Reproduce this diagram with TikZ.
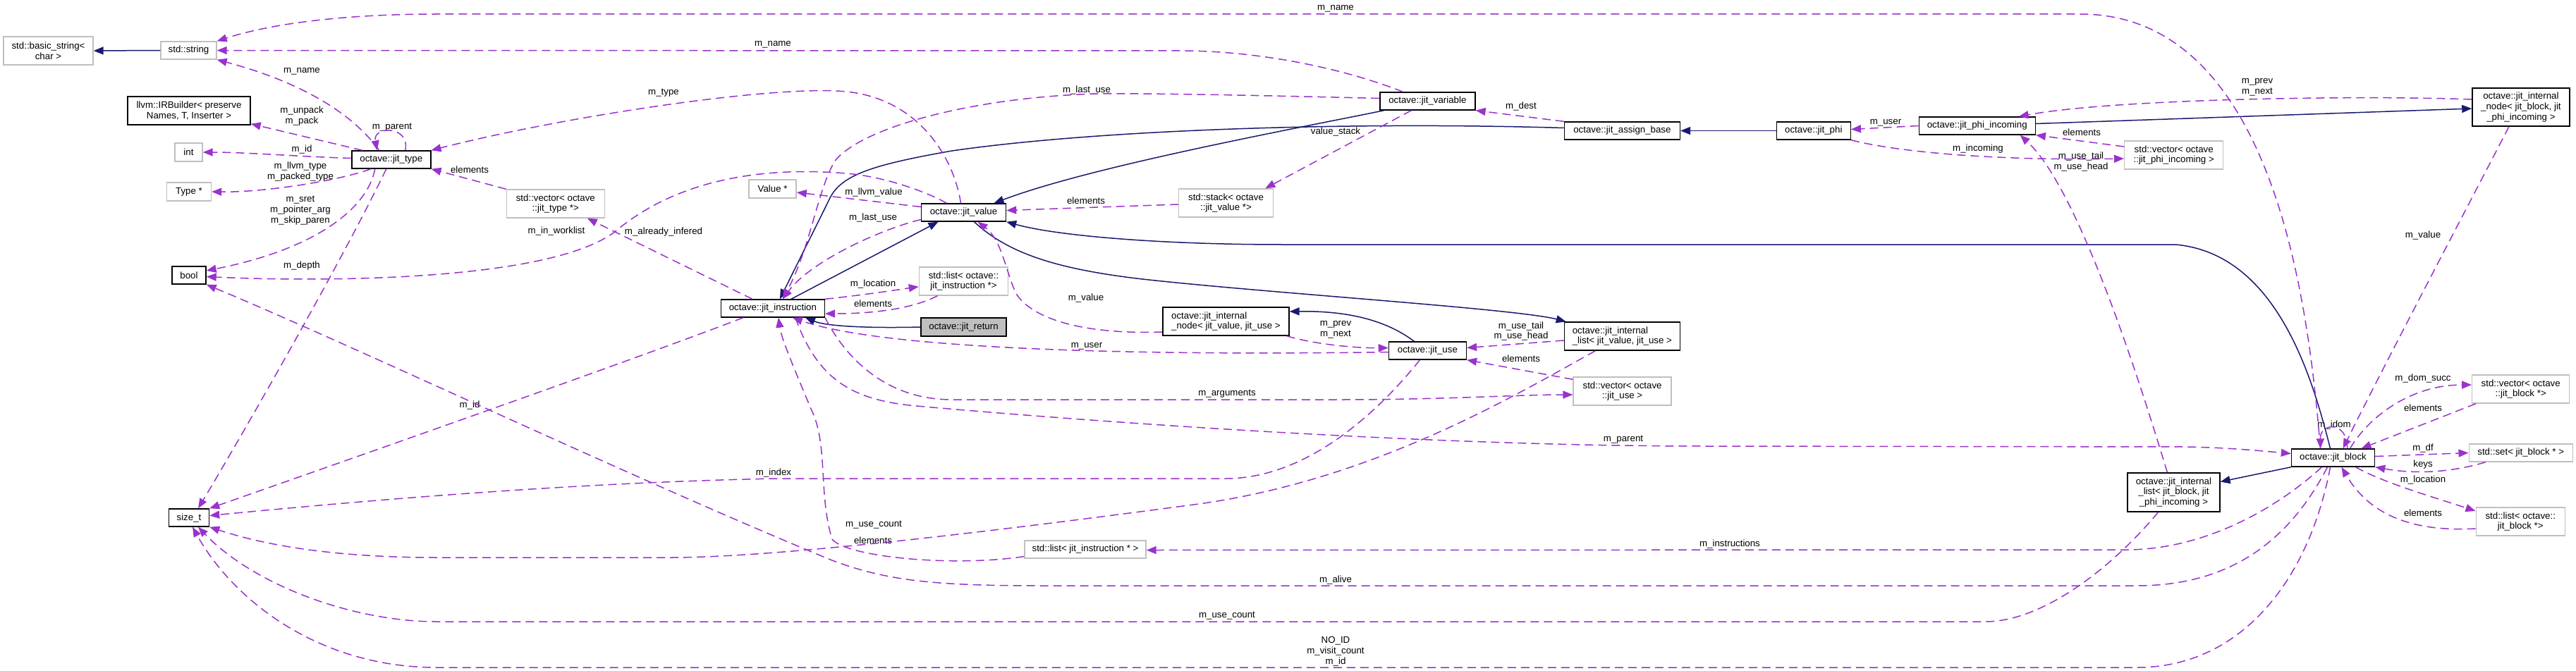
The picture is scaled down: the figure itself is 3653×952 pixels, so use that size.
\documentclass[tikz,border=0pt]{standalone}
\usepackage{fontspec}
\setmainfont{Liberation Sans}
\usetikzlibrary{arrows.meta}
\definecolor{dorch}{HTML}{9A32CD}
\definecolor{mnb}{HTML}{191970}
\definecolor{gsev}{HTML}{BFBFBF}
\newcommand\dxf{\fontsize{13.3}{14.8}\selectfont}
\tikzset{
 bx/.style={draw=black, line width=1.4pt, fill=white, inner sep=0pt, align=center, font=\dxf},
 gbx/.style={bx, draw=gsev},
 lab/.style={inner sep=0pt, align=center, font=\dxf},
 dep/.style={draw=dorch, line width=1.5pt, dash pattern=on 12pt off 7pt, -{Triangle[length=14pt,width=11pt]}},
 inh/.style={draw=mnb, line width=1.5pt, -{Triangle[length=14pt,width=11pt]}}
}
\begin{document}
\begin{tikzpicture}[x=1pt,y=-1pt]
\fill[white] (0,0) rectangle (3653,952);
\useasboundingbox (0,0) rectangle (3653,952);
% nodes
\node[gbx, minimum width=127pt, minimum height=40pt] (bstr) at (68.5,72) {std::basic\_string<\\char >};
\node[gbx, minimum width=79pt, minimum height=25pt] (str) at (267.5,71.5) {std::string};
\node[bx, minimum width=174pt, minimum height=40pt] (irb) at (268,157) {llvm::IRBuilder< preserve\\Names, T, Inserter >};
\node[gbx, minimum width=39pt, minimum height=26pt] (int) at (267.5,216) {int};
\node[gbx, minimum width=63pt, minimum height=26pt] (typep) at (268,272) {Type *};
\node[bx, minimum width=112pt, minimum height=25pt] (jtype) at (554.8,226.5) {octave::jit\_type};
\node[bx, minimum width=48pt, minimum height=25pt] (bool) at (268,390.5) {bool};
\node[bx, minimum width=57pt, minimum height=25pt] (sizet) at (268,734.5) {size\_t};
\node[gbx, minimum width=139pt, minimum height=40pt] (vjt) at (787.8,289) {std::vector< octave\\::jit\_type *>};
\node[gbx, minimum width=67pt, minimum height=26pt] (valp) at (1095.6,268) {Value *};
\node[bx, minimum width=147pt, minimum height=25pt] (jinst) at (1095.9,437.5) {octave::jit\_instruction};
\node[bx, minimum width=120pt, minimum height=25pt] (jval) at (1366.5,301.5) {octave::jit\_value};
\node[gbx, minimum width=134pt, minimum height=40pt] (stk) at (1738.5,288) {std::stack< octave\\::jit\_value *>};
\node[gbx, minimum width=126pt, minimum height=40pt] (lji) at (1366.5,399) {std::list< octave::\\jit\_instruction *>};
\node[bx, fill=gsev, minimum width=121pt, minimum height=26pt] (jret) at (1366.5,464) {octave::jit\_return};
\node[bx, align=left, minimum width=179pt, minimum height=40pt] (inode) at (1738.4,456) {octave::jit\_internal\\\_node< jit\_value, jit\_use >};
\node[bx, minimum width=135pt, minimum height=25pt] (jvar) at (2024.4,143.5) {octave::jit\_variable};
\node[bx, minimum width=164pt, minimum height=25pt] (jab) at (2300.4,185.5) {octave::jit\_assign\_base};
\node[bx, align=left, minimum width=164pt, minimum height=40pt] (ilist) at (2300.4,477) {octave::jit\_internal\\\_list< jit\_value, jit\_use >};
\node[bx, minimum width=105pt, minimum height=25pt] (jphi) at (2571.8,185.5) {octave::jit\_phi};
\node[bx, minimum width=165pt, minimum height=25pt] (jpi) at (2803.7,178.5) {octave::jit\_phi\_incoming};
\node[gbx, minimum width=140pt, minimum height=40pt] (vpi) at (3082.7,220) {std::vector< octave\\::jit\_phi\_incoming >};
\node[bx, minimum width=138pt, minimum height=54pt] (inodeb) at (3574.9,152) {octave::jit\_internal\\\_node< jit\_block, jit\\\_phi\_incoming >};
\node[bx, minimum width=110pt, minimum height=25pt] (juse) at (2024.4,497.5) {octave::jit\_use};
\node[gbx, minimum width=139pt, minimum height=40pt] (vju) at (2300.6,555) {std::vector< octave\\::jit\_use >};
\node[gbx, minimum width=172pt, minimum height=25pt] (ljp) at (1539,779.5) {std::list< jit\_instruction * >};
\node[bx, minimum width=118pt, minimum height=25pt] (jblk) at (3308.5,649.5) {octave::jit\_block};
\node[bx, minimum width=131pt, minimum height=55pt] (ilistb) at (3082.4,698.5) {octave::jit\_internal\\\_list< jit\_block, jit\\\_phi\_incoming >};
\node[gbx, minimum width=138pt, minimum height=40pt] (vjb) at (3574.7,552) {std::vector< octave\\::jit\_block *>};
\node[gbx, minimum width=147pt, minimum height=25pt] (sjb) at (3574.7,642.5) {std::set< jit\_block * >};
\node[gbx, minimum width=126pt, minimum height=40pt] (ljb) at (3574.2,740) {std::list< octave::\\jit\_block *>};
% labels
\node[lab] (l1) at (428,101) {m\_name};
\node[lab] (l2) at (556,181) {m\_parent};
\node[lab] (l3) at (428,164.5) {m\_unpack\\m\_pack};
\node[lab] (l4) at (428,212) {m\_id};
\node[lab] (l5) at (426,243.5) {m\_llvm\_type\\m\_packed\_type};
\node[lab] (l6) at (426,298.5) {m\_sret\\m\_pointer\_arg\\m\_skip\_paren};
\node[lab] (l7) at (428,377) {m\_depth};
\node[lab] (l8) at (941,132) {m\_type};
\node[lab] (l9) at (666,241) {elements};
\node[lab] (l10) at (789,328) {m\_in\_worklist};
\node[lab] (l11) at (941,329) {m\_already\_infered};
\node[lab] (l12) at (1096,63) {m\_name};
\node[lab] (l13) at (1894,12) {m\_name};
\node[lab] (l14) at (1239,273) {m\_llvm\_value};
\node[lab] (l15) at (1238,309) {m\_last\_use};
\node[lab] (l16) at (1541,128) {m\_last\_use};
\node[lab] (l17) at (1540,285) {elements};
\node[lab] (l18) at (1894,187) {value\_stack};
\node[lab] (l19) at (2157,151) {m\_dest};
\node[lab] (l20) at (1238,403) {m\_location};
\node[lab] (l21) at (1238,431) {elements};
\node[lab] (l22) at (1540,423) {m\_value};
\node[lab] (l23) at (1894,468) {m\_prev\\m\_next};
\node[lab] (l24) at (2157,470) {m\_use\_tail\\m\_use\_head};
\node[lab] (l25) at (1541,491) {m\_user};
\node[lab] (l26) at (2157,509) {elements};
\node[lab] (l27) at (1740,559) {m\_arguments};
\node[lab] (l28) at (2302,624) {m\_parent};
\node[lab] (l29) at (1097,671) {m\_index};
\node[lab] (l30) at (666,575) {m\_id};
\node[lab] (l31) at (1239,745) {m\_use\_count};
\node[lab] (l32) at (1740,874) {m\_use\_count};
\node[lab] (l33) at (1238,767) {elements};
\node[lab] (l34) at (2453,772) {m\_instructions};
\node[lab] (l35) at (1894,823) {m\_alive};
\node[lab] (l36) at (1894,924) {NO\_ID\\m\_visit\_count\\m\_id};
\node[lab] (l37) at (2674,174) {m\_user};
\node[lab] (l38) at (2805,211) {m\_incoming};
\node[lab] (l39) at (2952,188) {elements};
\node[lab] (l40) at (2951,229.5) {m\_use\_tail\\m\_use\_head};
\node[lab] (l41) at (3201,123.5) {m\_prev\\m\_next};
\node[lab] (l42) at (3436,334) {m\_value};
\node[lab] (l43) at (3310,603) {m\_idom};
\node[lab] (l44) at (3436,537) {m\_dom\_succ};
\node[lab] (l45) at (3436,579) {elements};
\node[lab] (l46) at (3436,636) {m\_df};
\node[lab] (l47) at (3436,659) {keys};
\node[lab] (l48) at (3436,681) {m\_location};
\node[lab] (l49) at (3436,728) {elements};
% inheritance
\draw[inh] (str.west) -- (bstr.east);
\draw[inh] ([yshift=4pt]jab.west) .. controls (1900,172) and (1550,185) .. (1350,214) .. controls (1230,235) and (1190,250) .. (1175,285) -- ([xshift=10pt]jinst.north);
\draw[inh] ([xshift=-62pt]jvar.south) .. controls (1850,180) and (1550,235) .. ([xshift=43pt]jval.north);
\draw[inh] ([xshift=26pt]jinst.north) -- ([xshift=-36pt]jval.south);
\draw[inh] ([xshift=-4pt]jblk.north) .. controls (3280,540) and (3230,360) .. (3085,347) -- (1820,347) .. controls (1650,347) and (1500,335) .. (jval.south east);
\draw[inh] ([xshift=15pt]jval.south) .. controls (1430,360) and (1500,382) .. (1620,396) .. controls (1800,416) and (2150,438) .. ([xshift=3pt]ilist.north west);
\draw[inh] ([xshift=-19pt]juse.north) .. controls (1960,450) and (1900,441) .. ([yshift=14pt]inode.east);
\draw[inh] (jret.west) .. controls (1220,466) and (1170,462) .. ([xshift=46pt]jinst.south);
\draw[inh] (jphi.west) -- (jab.east);
\draw[inh] ([yshift=3pt]jpi.east) -- ([yshift=-2pt]inodeb.west);
\draw[inh] (jblk.south west) -- ([yshift=15pt]ilistb.east);
% members
\draw[dep] ([xshift=-17pt]jtype.north) .. controls (505,168) and (440,120) .. (str.south east);
\draw[dep] ([xshift=20pt]jtype.north) .. controls (582,178) and (528,178) .. ([xshift=-20pt]jtype.north);
\draw[dep] ([xshift=-41pt]jtype.north) -- ([yshift=2pt]irb.south east);
\draw[dep] ([yshift=2pt]jtype.west) .. controls (420,222) and (350,216) .. (int.east);
\draw[dep] ([xshift=-29pt]jtype.south) .. controls (485,255) and (380,273) .. (typep.east);
\draw[dep] ([xshift=-23pt]jtype.south) .. controls (520,300) and (440,355) .. ([yshift=6.5pt]bool.east);
\draw[dep] ([xshift=-7pt]jtype.south) .. controls (480,380) and (330,640) .. ([xshift=13pt]sizet.north);
\draw[dep] ([xshift=-4pt]jval.north) .. controls (1352,220) and (1300,140) .. (1200,130) .. controls (1100,120) and (800,165) .. (jtype.north east);
\draw[dep] (vjt.north west) -- (jtype.south east);
\draw[dep] ([xshift=-29pt]jinst.north) -- ([xshift=45pt]vjt.south);
\draw[dep] ([xshift=-24pt]jval.north) .. controls (1310,270) and (1250,250) .. (1200,246) .. controls (1080,236) and (960,255) .. (873,328) .. controls (780,400) and (450,400) .. ([yshift=-2pt]bool.east);
\draw[dep] ([yshift=8pt]jval.west) -- ([yshift=-5pt]valp.east);
\draw[dep] ([yshift=-10pt]jval.west) .. controls (1250,325) and (1150,370) .. ([xshift=14pt]jinst.north);
\draw[dep] ([yshift=4pt]jvar.west) .. controls (1850,137) and (1650,132) .. (1556,133) .. controls (1380,138) and (1225,180) .. (1185,227) .. controls (1160,265) and (1150,350) .. ([xshift=14pt]jinst.north);
\draw[dep] ([xshift=-35pt]jvar.north) .. controls (1900,95) and (1780,72) .. (1674,72) -- (str.east);
\draw[dep] ([xshift=-18pt]jblk.north) .. controls (3275,450) and (3230,20) .. (2950,20) -- (620,20) .. controls (480,20) and (380,35) .. (str.north east);
\draw[dep] (jab.north west) -- (jvar.south east);
\draw[dep] ([xshift=-23pt]jvar.south) -- ([xshift=-12pt]stk.north east);
\draw[dep] ([yshift=-2pt]stk.west) -- ([yshift=3pt]jval.east);
\draw[dep] (jinst.north east) .. controls (1230,418) and (1280,410) .. ([yshift=-7.7pt]lji.west);
\draw[dep] ([xshift=-37pt]lji.south) .. controls (1290,440) and (1230,445) .. ([yshift=-7.5pt]jinst.east);
\draw[dep] ([yshift=-15pt]inode.west) .. controls (1530,475) and (1460,450) .. (1440,415) .. controls (1425,380) and (1420,340) .. ([xshift=20pt]jval.south);
\draw[dep] ([xshift=-4pt]inode.south east) .. controls (1870,490) and (1930,494) .. ([yshift=4pt]juse.west);
\draw[dep] ([yshift=-6pt]ilist.west) -- ([yshift=4pt]juse.east);
\draw[dep] ([yshift=-4pt]vju.north west) -- (juse.south east);
\draw[dep] ([yshift=-2pt]juse.west) .. controls (1600,505) and (1250,495) .. ([xshift=28pt]jinst.south);
\draw[dep] ([xshift=32pt]jinst.south) .. controls (1160,540) and (1210,568) .. (1300,576) .. controls (1500,594) and (2000,633) .. (2420,633) -- (3100,634) .. controls (3160,635) and (3210,640) .. ([yshift=6pt]jblk.west);
\draw[dep] (jinst.south east) .. controls (1195,500) and (1250,567) .. (1350,567) -- (1900,567) .. controls (2050,567) and (2150,560) .. ([yshift=-5pt]vju.west);
\draw[dep] ([yshift=-10pt]ljp.west) .. controls (1350,805) and (1200,790) .. (1180,765) .. controls (1160,700) and (1175,630) .. (1150,580) .. controls (1125,520) and (1108,480) .. ([xshift=8pt]jinst.south);
\draw[dep] ([xshift=-16pt]jblk.south) .. controls (3230,720) and (3130,778) .. (3020,780) -- ([yshift=-1pt]ljp.east);
\draw[dep] ([xshift=-8pt]jblk.south) .. controls (3250,760) and (3170,831) .. (3030,831) -- (1480,831) .. controls (1330,831) and (1260,825) .. (1180,795) .. controls (900,680) and (500,490) .. (bool.south east);
\draw[dep] ([xshift=-4pt]jblk.south) .. controls (3275,820) and (3180,947) .. (3030,947) -- (620,947) .. controls (450,947) and (330,850) .. ([xshift=5pt]sizet.south);
\draw[dep] ([xshift=-22pt]ilistb.south) .. controls (3000,800) and (2900,882) .. (2815,882) -- (620,882) .. controls (500,882) and (360,830) .. ([xshift=13pt]sizet.south);
\draw[dep] ([xshift=-38pt]ilist.south) .. controls (2150,560) and (1950,680) .. (1700,715) .. controls (1400,755) and (1100,791) .. (950,791) -- (620,791) .. controls (480,791) and (380,775) .. (sizet.south east);
\draw[dep] ([xshift=-11pt]juse.south) .. controls (1950,590) and (1850,679) .. (1738,679) -- (1100,679) .. controls (800,685) and (500,712) .. ([yshift=3pt]sizet.east);
\draw[dep] ([xshift=-42pt]jinst.south) .. controls (900,510) and (500,650) .. (sizet.north east);
\draw[dep] ([xshift=-9pt]ilistb.north) .. controls (3040,560) and (2950,270) .. ([xshift=61pt]jpi.south);
\draw[dep] ([yshift=11pt]inodeb.west) .. controls (3350,135) and (3000,140) .. ([xshift=59pt]jpi.north);
\draw[dep] (jpi.west) -- ([yshift=2pt]jphi.east);
\draw[dep] (jphi.south east) .. controls (2700,218) and (2850,228) .. ([yshift=-5pt]vpi.west);
\draw[dep] ([yshift=12pt]vpi.west) -- (jpi.south east);
\draw[dep] ([xshift=-17pt]inodeb.south) .. controls (3480,330) and (3380,520) .. ([xshift=14pt]jblk.north);
\draw[dep] ([xshift=20pt]jblk.north) .. controls (3330,598) and (3290,598) .. ([xshift=-18pt]jblk.north);
\draw[dep] ([xshift=24pt]jblk.north) .. controls (3360,590) and (3420,546) .. ([yshift=6pt]vjb.west);
\draw[dep] ([xshift=6pt]vjb.south west) -- ([xshift=40pt]jblk.north);
\draw[dep] ([yshift=2pt]jblk.east) -- (sjb.west);
\draw[dep] ([xshift=-50pt]sjb.south) .. controls (3470,672) and (3420,672) .. (jblk.south east);
\draw[dep] ([xshift=32pt]jblk.south) .. controls (3380,685) and (3450,705) .. ([yshift=15pt]ljb.west);
\draw[dep] ([yshift=-10pt]ljb.west) .. controls (3420,755) and (3360,730) .. ([xshift=12pt]jblk.south);
\end{tikzpicture}
\end{document}
